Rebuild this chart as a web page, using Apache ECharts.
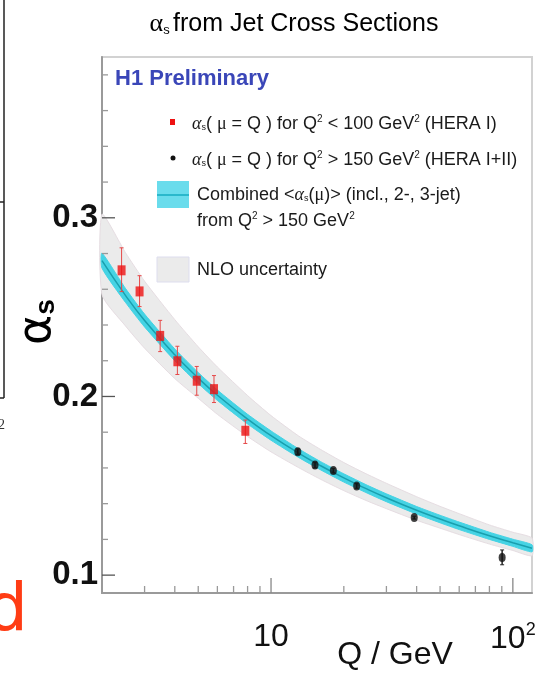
<!DOCTYPE html>
<html><head><meta charset="utf-8">
<script src="https://cdn.jsdelivr.net/npm/echarts@6/dist/echarts.min.js"></script>
<style>html,body{margin:0;padding:0;background:#fff}#c{width:540px;height:674px}</style>
</head><body><div id="c"></div>
<script>
// ---- data ----
const titleText = 'from Jet Cross Sections';
const xTickLabels = ['10', '10²'];
const yTickLabels = ['0.1', '0.2', '0.3'];

// HERA I (red), Q < 10 GeV
const qRed    = [2.41, 2.86, 3.48, 4.10, 4.93, 5.81, 7.83];
const aRed    = [0.2706, 0.2588, 0.2339, 0.2197, 0.2088, 0.2041, 0.1808];
const aRedHi  = [0.2832, 0.2676, 0.2426, 0.2281, 0.2168, 0.2117, 0.1868];
const aRedLo  = [0.2587, 0.2503, 0.2251, 0.2123, 0.2007, 0.1966, 0.1737];

// HERA I+II (black)
const qBlack   = [12.9, 15.2, 18.1, 22.6, 39.1, 90.3];
const aBlack   = [0.1691, 0.1616, 0.1585, 0.1499, 0.1322, 0.1099];
const aBlackHi = [0.1706, 0.1632, 0.1598, 0.1512, 0.1330, 0.1141];
const aBlackLo = [0.1676, 0.1600, 0.1572, 0.1486, 0.1314, 0.1058];

// combined alpha_s running curve and bands
const qCurve  = [2, 2.5, 3, 4, 5, 6, 8, 10, 13, 16, 20, 25, 30, 40, 50, 60, 80, 100, 120];
const aCurve  = [0.2760, 0.2566, 0.2425, 0.2233, 0.2103, 0.2007, 0.1873, 0.1781, 0.1683, 0.1613, 0.1544, 0.1481, 0.1433, 0.1363, 0.1314, 0.1276, 0.1220, 0.1181, 0.1150];
const cyanHi  = [0.2802, 0.2605, 0.2461, 0.2266, 0.2134, 0.2036, 0.1900, 0.1807, 0.1707, 0.1636, 0.1567, 0.1503, 0.1455, 0.1384, 0.1335, 0.1297, 0.1240, 0.1201, 0.1170];
const cyanLo  = [0.2718, 0.2527, 0.2389, 0.2200, 0.2072, 0.1978, 0.1846, 0.1755, 0.1659, 0.1590, 0.1521, 0.1459, 0.1411, 0.1342, 0.1293, 0.1255, 0.1200, 0.1161, 0.1130];
const nloHi   = [0.3020, 0.2805, 0.2645, 0.2430, 0.2278, 0.2165, 0.2005, 0.1893, 0.1779, 0.1704, 0.1630, 0.1564, 0.1514, 0.1439, 0.1385, 0.1344, 0.1281, 0.1240, 0.1207];
const nloLo   = [0.2570, 0.2395, 0.2270, 0.2100, 0.1990, 0.1900, 0.1776, 0.1690, 0.1602, 0.1537, 0.1473, 0.1415, 0.1372, 0.1307, 0.1263, 0.1227, 0.1174, 0.1138, 0.1109];

// axis ticks
const xMajorTicks = [10, 100];
const xMinorTicks = [3, 4, 5, 6, 7, 8, 9, 20, 30, 40, 50, 60, 70, 80, 90];
const yMajorTicks = [0.1, 0.2, 0.3];
const yMinorTicks = [0.12, 0.14, 0.16, 0.18, 0.22, 0.24, 0.26, 0.28, 0.32, 0.34, 0.36, 0.38];

const X_MIN = 2, X_MAX = 120, Y_MIN = 0.09, Y_MAX = 0.39;
const SANS = '"Liberation Sans", Arial, sans-serif';
const SERIF = '"Liberation Serif", "DejaVu Serif", serif';

const chart = echarts.init(document.getElementById('c'), null, {renderer: 'canvas'});

function bandSeries(name, hi, lo, fill, stroke, z) {
  return {
    name, type: 'custom', z,
    data: qCurve.map((q, i) => [q, aCurve[i]]),
    silent: true,
    renderItem: (params, api) => {
      if (params.dataIndex !== 0) return null;
      const pts = [];
      for (let i = 0; i < qCurve.length; i++) pts.push(api.coord([qCurve[i], hi[i]]));
      for (let i = qCurve.length - 1; i >= 0; i--) pts.push(api.coord([qCurve[i], lo[i]]));
      return {type: 'polygon', shape: {points: pts, smooth: 0.2}, style: {fill, stroke, lineWidth: 1}};
    }
  };
}

function errSeries(name, q, lo, hi, color, width) {
  return {
    name, type: 'custom', z: 5, silent: true,
    data: q.map((v, i) => [v, lo[i], hi[i]]),
    renderItem: (params, api) => {
      const p1 = api.coord([api.value(0), api.value(1)]);
      const p2 = api.coord([api.value(0), api.value(2)]);
      return {type: 'group', children: [
        {type: 'line', shape: {x1: p1[0], y1: p1[1], x2: p2[0], y2: p2[1]}, style: {stroke: color, lineWidth: width}},
        {type: 'line', shape: {x1: p1[0] - 2, y1: p1[1], x2: p1[0] + 2, y2: p1[1]}, style: {stroke: color, lineWidth: 1}},
        {type: 'line', shape: {x1: p2[0] - 2, y1: p2[1], x2: p2[0] + 2, y2: p2[1]}, style: {stroke: color, lineWidth: 1}}
      ]};
    }
  };
}

function tickSeries(name, vals, isX, len, color) {
  return {
    name, type: 'custom', z: 6, silent: true,
    data: vals.map(v => isX ? [v, Y_MIN] : [X_MIN, v]),
    renderItem: (params, api) => {
      const p = api.coord([api.value(0), api.value(1)]);
      const shape = isX ? {x1: p[0], y1: p[1], x2: p[0], y2: p[1] - len}
                        : {x1: p[0], y1: p[1], x2: p[0] + len, y2: p[1]};
      return {type: 'line', shape, style: {stroke: color, lineWidth: 1.3}};
    }
  };
}

const legendText = {
  fontFamily: SANS, fontSize: 18, fill: '#1a1a1a',
  rich: {
    t: {fontFamily: SANS, fontSize: 18, color: '#1a1a1a'},
    g: {fontFamily: SERIF, fontStyle: 'italic', fontSize: 18, color: '#666'},
    m: {fontFamily: SERIF, fontSize: 18, color: '#666'},
    sub: {fontFamily: SANS, fontSize: 9, color: '#666', padding: [8, 0, 0, 0]},
    sup: {fontFamily: SANS, fontSize: 10, color: '#1a1a1a', padding: [0, 0, 10, 0]}
  }
};

const option = {
  animation: false,
  backgroundColor: '#fff',
  grid: {left: 102, top: 57, width: 430, height: 536, show: true, borderColor: '#d2d2d2', borderWidth: 2, backgroundColor: 'transparent'},
  xAxis: {
    type: 'log', logBase: 10, min: X_MIN, max: X_MAX,
    axisLine: {lineStyle: {color: '#9a9a9a', width: 2}},
    axisTick: {show: false}, splitLine: {show: false}, minorTick: {show: false},
    axisLabel: {
      margin: 28, fontFamily: SANS, fontSize: 32, color: '#111',
      formatter: v => Math.abs(v - 10) < 1e-6 ? xTickLabels[0] : (Math.abs(v - 100) < 1e-6 ? '{b|10}{s|2}' : ''),
      rich: {b: {fontFamily: SANS, fontSize: 32, color: '#111'}, s: {fontFamily: SANS, fontSize: 18, color: '#111', padding: [0, 0, 18, 0]}}
    }
  },
  yAxis: {
    type: 'value', min: Y_MIN, max: Y_MAX, interval: 0.01,
    axisLine: {lineStyle: {color: '#9a9a9a', width: 2}},
    axisTick: {show: false}, splitLine: {show: false},
    axisLabel: {
      margin: 4, fontFamily: SANS, fontSize: 33, fontWeight: 'bold', color: '#111',
      formatter: v => {
        const k = Math.round(v * 10);
        return Math.abs(v * 10 - k) < 1e-6 && k >= 1 && k <= 3 ? yTickLabels[k - 1] : '';
      }
    }
  },
  series: [
    bandSeries('NLO uncertainty', nloHi, nloLo, '#ebebeb', '#e6dde2', 1),
    bandSeries('Combined band', cyanHi, cyanLo, '#45d3e4', '#45d3e4', 2),
    {
      name: 'Combined', type: 'line', z: 3, smooth: true, showSymbol: false, silent: true,
      data: qCurve.map((q, i) => [q, aCurve[i]]),
      lineStyle: {color: '#199fae', width: 1.5}
    },
    errSeries('HERA I err', qRed, aRedLo, aRedHi, '#e54848', 1),
    errSeries('HERA I+II err', qBlack, aBlackLo, aBlackHi, '#222', 1.5),
    {
      name: 'HERA I', type: 'scatter', z: 7, symbol: 'rect', symbolSize: [8, 10],
      data: qRed.map((q, i) => [q, aRed[i]]), itemStyle: {color: '#ee1111'}
    },
    {
      name: 'HERA I+II', type: 'scatter', z: 7, symbol: 'circle', symbolSize: [7, 9],
      data: qBlack.map((q, i) => [q, aBlack[i]]), itemStyle: {color: '#111'}
    },
    tickSeries('xMajor', xMajorTicks, true, 15, '#888'),
    tickSeries('xMinor', xMinorTicks, true, 7, '#999'),
    tickSeries('yMajor', yMajorTicks, false, 13, '#555'),
    tickSeries('yMinor', yMinorTicks, false, 6, '#999')
  ],
  graphic: [
    // fragment of neighbouring slide content on the left
    {type: 'line', shape: {x1: 4, y1: 0, x2: 4, y2: 398}, style: {stroke: '#222', lineWidth: 1.5}},
    {type: 'line', shape: {x1: 0, y1: 202, x2: 4, y2: 202}, style: {stroke: '#222', lineWidth: 1.5}},
    {type: 'line', shape: {x1: 0, y1: 398, x2: 4, y2: 398}, style: {stroke: '#222', lineWidth: 1.5}},
    {type: 'text', x: -2, y: 418, style: {text: '2', fontFamily: SERIF, fontSize: 14, fill: '#333'}},
    {type: 'text', x: -14, y: 580, style: {text: 'd', fontFamily: '"DejaVu Sans", sans-serif', fontSize: 66, fill: '#ff3c14'}},
    // title
    {type: 'text', x: 294, y: 24, style: {
      text: '{a|α}{s|s} {t|' + titleText + '}', align: 'center', verticalAlign: 'middle',
      rich: {
        a: {fontFamily: SERIF, fontSize: 26, color: '#555'},
        s: {fontFamily: SANS, fontSize: 13, color: '#333', padding: [12, 0, 0, 0]},
        t: {fontFamily: SANS, fontSize: 25, color: '#1a1a1a'}
      }}},
    // legend
    {type: 'text', x: 115, y: 79, style: {text: 'H1 Preliminary', fontFamily: SANS, fontSize: 22, fontWeight: 'bold', fill: '#3a46b8', verticalAlign: 'middle'}},
    {type: 'rect', shape: {x: 170, y: 119, width: 5, height: 6}, style: {fill: '#ee1111'}},
    {type: 'text', x: 192, y: 124, style: Object.assign({}, legendText, {verticalAlign: 'middle',
      text: '{g|α}{sub|s}{t|( }{m|μ}{t| = Q ) for Q}{sup|2}{t| < 100 GeV}{sup|2}{t| (HERA I)}'})},
    {type: 'circle', shape: {cx: 173, cy: 158, r: 2.5}, style: {fill: '#111'}},
    {type: 'text', x: 192, y: 160, style: Object.assign({}, legendText, {verticalAlign: 'middle',
      text: '{g|α}{sub|s}{t|( }{m|μ}{t| = Q ) for Q}{sup|2}{t| > 150 GeV}{sup|2}{t| (HERA I+II)}'})},
    {type: 'rect', shape: {x: 157, y: 181, width: 32, height: 27}, style: {fill: '#6adcec'}},
    {type: 'line', shape: {x1: 157, y1: 195, x2: 189, y2: 195}, style: {stroke: '#2ab8cc', lineWidth: 2}},
    {type: 'text', x: 197, y: 195, style: Object.assign({}, legendText, {verticalAlign: 'middle',
      text: '{t|Combined <}{g|α}{sub|s}{t|(}{m|μ}{t|)> (incl., 2-, 3-jet)}'})},
    {type: 'text', x: 197, y: 221, style: Object.assign({}, legendText, {verticalAlign: 'middle',
      text: '{t|from Q}{sup|2}{t| > 150 GeV}{sup|2}'})},
    {type: 'rect', shape: {x: 157, y: 257, width: 32, height: 25}, style: {fill: '#ebebeb', stroke: '#dde', lineWidth: 1}},
    {type: 'text', x: 197, y: 270, style: Object.assign({}, legendText, {verticalAlign: 'middle', text: '{t|NLO uncertainty}'})},
    // axis titles
    {type: 'text', x: 395, y: 655, style: {text: 'Q / GeV', fontFamily: SANS, fontSize: 32, fill: '#111', align: 'center', verticalAlign: 'middle'}},
    {type: 'text', x: 38, y: 322, rotation: Math.PI / 2, style: {
      text: '{a|α}{s|s}', align: 'center', verticalAlign: 'middle',
      rich: {a: {fontFamily: '"DejaVu Sans", sans-serif', fontSize: 46, color: '#111'}, s: {fontFamily: SANS, fontSize: 28, fontWeight: 'bold', color: '#111', padding: [16, 0, 0, 0]}}
    }}
  ]
};
chart.setOption(option);
</script>
</body></html>
